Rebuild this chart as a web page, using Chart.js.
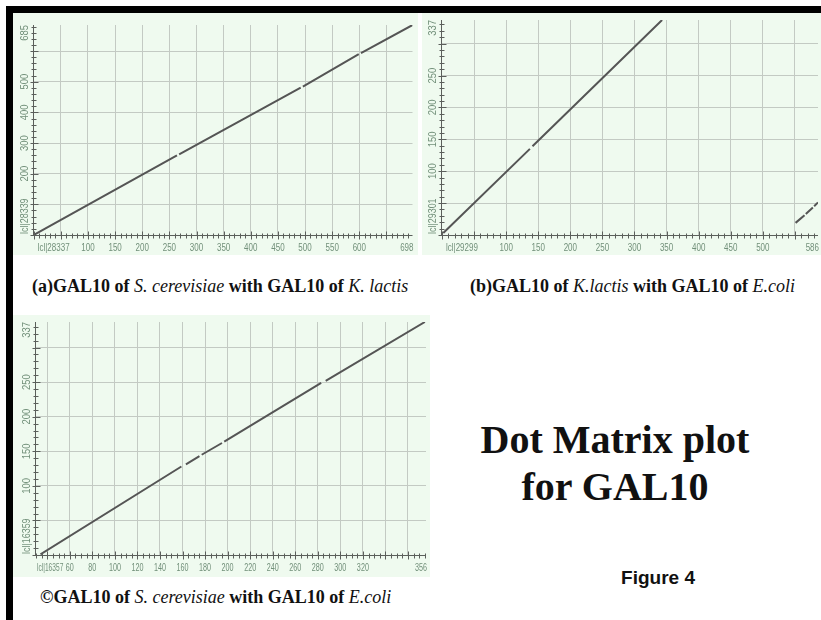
<!DOCTYPE html>
<html>
<head>
<meta charset="utf-8">
<script src="https://cdn.jsdelivr.net/npm/chart.js@4.4.0/dist/chart.umd.min.js"></script>
<style>
  body { margin: 0; width: 821px; height: 620px; background: #fff; position: relative; overflow: hidden; }
  .bar { position: absolute; background: #000; }
  canvas { position: absolute; background: #effaef; }
  .cap { position: absolute; font-family: "Liberation Serif", "Times New Roman", serif; font-weight: bold;
         font-size: 18px; white-space: nowrap; color: #111; line-height: 22px; }
  .cap i { font-weight: normal; }
  .big { position: absolute; left: 440px; width: 350px; top: 416px; text-align: center;
         font-family: "Liberation Serif", "Times New Roman", serif; font-weight: bold; font-size: 40px; line-height: 47px; color: #111; }
  .fig { position: absolute; left: 590px; width: 136px; top: 566px; text-align: center;
         font-family: "Liberation Sans", Arial, sans-serif; font-weight: bold; font-size: 19px; line-height: 24px; color: #111; }
</style>
</head>
<body>
<div class="bar" style="left:6px;top:6px;width:815px;height:7px"></div>
<div class="bar" style="left:6px;top:6px;width:7px;height:614px"></div>

<canvas id="plotA" width="405" height="242" style="left:13px;top:13px"></canvas>
<canvas id="plotB" width="399" height="242" style="left:422px;top:13px"></canvas>
<canvas id="plotC" width="417" height="262" style="left:13px;top:315px"></canvas>

<div class="cap" style="left:32px;top:275px">(a)GAL10 of <i>S. cerevisiae</i> with GAL10 of <i>K. lactis</i></div>
<div class="cap" style="left:470px;top:275px">(b)GAL10 of <i>K.lactis</i> with GAL10 of <i>E.coli</i></div>
<div class="cap" style="left:40px;top:586px">©GAL10 of <i>S. cerevisiae</i> with GAL10 of <i>E.coli</i></div>
<div class="big">Dot Matrix plot<br>for GAL10</div>
<div class="fig">Figure 4</div>

<script>
// (a) S. cerevisiae (x) vs K. lactis (y) - matching segments, null = break
const aSegX = [2, 264, null, 268, 492, null, 496, 599, null, 603, 698];
const aSegY = [2, 260, null, 263, 481, null, 484, 590, null, 593, 685];
const aXTicks = [100, 150, 200, 250, 300, 350, 400, 450, 500, 550, 600];
const aYTicks = [200, 300, 400, 500];

// (b) K. lactis (x) vs E. coli (y)
const bSegX = [2, 137, null, 141, 343, null, 551, 565, null, 567, 578, null, 580, 586];
const bSegY = [3, 135, null, 139, 337, null, 19, 31, null, 33, 43, null, 45, 51];
const bXTicks = [100, 150, 200, 250, 300, 350, 400, 450, 500];
const bYTicks = [100, 150, 200, 250];

// (c) S. cerevisiae (x) vs E. coli (y)
const cSegX = [34, 159, null, 163, 175, null, 177, 195, null, 197, 283, null, 287, 375];
const cSegY = [1, 128, null, 131, 143, null, 145, 162, null, 164, 249, null, 252, 337];
const cXTicks = [60, 80, 100, 120, 140, 160, 180, 200, 220, 240, 260, 280, 300, 320];
const cYTicks = [100, 150, 200, 250];

const labelColor = "#72907a";
const tickColor = "#5b5f5b";
const gridColor = "#c3cac3";
const lineColor = "#555555";

// squeezed small text, the original labels are narrow
function smallText(ctx, txt, x, y, align, rotate, sq) {
  ctx.save();
  ctx.translate(x, y);
  if (rotate) ctx.rotate(-Math.PI / 2);
  ctx.scale(sq, 1);
  ctx.textAlign = align;
  ctx.fillText(txt, 0, 0);
  ctx.restore();
}

// axis lines, minor ticks and labels drawn from the chart's own scales
const axisDeco = {
  id: "axisDeco",
  afterDatasetsDraw(chart, args, o) {
    const { ctx, chartArea: ca, scales: { x, y } } = chart;
    ctx.save();
    ctx.strokeStyle = tickColor;
    ctx.lineWidth = 1;
    ctx.beginPath();
    const bx = Math.round(ca.bottom) + 0.5;
    const lx = Math.round(ca.left) - 0.5;
    ctx.moveTo(ca.left, bx); ctx.lineTo(ca.right, bx);
    ctx.moveTo(lx, ca.top); ctx.lineTo(lx, ca.bottom);
    for (let v = Math.ceil(x.min / o.xMinor) * o.xMinor; v <= x.max; v += o.xMinor) {
      const px = Math.round(x.getPixelForValue(v)) + 0.5;
      const big = v % o.xStep === 0;
      ctx.moveTo(px, bx - (big ? 4 : 2)); ctx.lineTo(px, bx + (big ? 4 : 3));
    }
    for (let v = Math.ceil(y.min / o.yMinor) * o.yMinor; v <= y.max; v += o.yMinor) {
      const py = Math.round(y.getPixelForValue(v)) + 0.5;
      const big = v % o.yStep === 0;
      ctx.moveTo(lx - (big ? 3 : 2), py); ctx.lineTo(lx + (big ? 5 : 3), py);
    }
    ctx.stroke();

    ctx.fillStyle = labelColor;
    ctx.font = '10px "Liberation Sans", Arial, sans-serif';
    ctx.textBaseline = "middle";
    const ly = ca.bottom + 13;
    const sq = o.squeeze;
    smallText(ctx, o.xName, ca.left + o.nameGap, ly, "left", false, o.nameSqueeze);
    o.xTicks.forEach(v => smallText(ctx, String(v), x.getPixelForValue(v), ly, "center", false, sq));
    smallText(ctx, String(o.xEnd), ca.right + 1, ly, "right", false, sq);

    ctx.font = '10.5px "Liberation Sans", Arial, sans-serif';
    const lyx = ca.left - 9;
    smallText(ctx, o.yName, lyx, ca.bottom - 1, "left", true, 0.85);
    o.yTicks.forEach(v => smallText(ctx, String(v), lyx, y.getPixelForValue(v), "center", true, 0.9));
    smallText(ctx, String(o.yEnd), lyx, ca.top, "right", true, 0.9);
    ctx.restore();
  }
};

function gridTicks(step) {
  return scale => {
    const t = [];
    for (let v = Math.ceil(scale.min / step) * step; v < scale.max; v += step) {
      if (v > scale.min) t.push({ value: v });
    }
    scale.ticks = t;
  };
}

function dotPlot(id, segX, segY, box, sc, deco) {
  const pts = segX.map((v, i) => ({ x: v, y: segY[i] }));
  const cv = document.getElementById(id);
  return new Chart(cv, {
    type: "scatter",
    data: {
      datasets: [{
        data: pts,
        showLine: true,
        spanGaps: false,
        borderColor: lineColor,
        borderWidth: 2,
        pointRadius: 0,
        pointHoverRadius: 0
      }]
    },
    options: {
      responsive: false,
      animation: false,
      events: [],
      layout: { padding: box },
      plugins: { legend: { display: false }, tooltip: { enabled: false }, axisDeco: deco },
      scales: {
        x: {
          type: "linear", min: sc.xMin, max: sc.xMax,
          afterBuildTicks: gridTicks(deco.xStep),
          afterFit: s => { s.height = 0; },
          border: { display: false },
          grid: { color: gridColor, drawTicks: false },
          ticks: { display: false }
        },
        y: {
          type: "linear", min: sc.yMin, max: sc.yMax,
          afterBuildTicks: gridTicks(deco.yStep),
          afterFit: s => { s.width = 0; },
          border: { display: false },
          grid: { color: gridColor, drawTicks: false },
          ticks: { display: false }
        }
      }
    },
    plugins: [axisDeco]
  });
}

// canvas at (13,13): plot area 33.7..412.5 x 25..235
dotPlot("plotA", aSegX, aSegY,
  { left: 20.7, top: 12, right: 5.5, bottom: 20 },
  { xMin: 0, xMax: 698, yMin: 0, yMax: 685 },
  { xStep: 50, xMinor: 10, yStep: 100, yMinor: 20, squeeze: 0.8, nameSqueeze: 0.8, nameGap: 4,
    xTicks: aXTicks, yTicks: aYTicks, xEnd: 698, yEnd: 685,
    xName: "lcl|28337", yName: "lcl|28339" });

// canvas at (422,13): plot area 442..818 x 20..235
dotPlot("plotB", bSegX, bSegY,
  { left: 20, top: 7, right: 3, bottom: 20 },
  { xMin: 0, xMax: 586, yMin: 0, yMax: 337 },
  { xStep: 50, xMinor: 10, yStep: 50, yMinor: 10, squeeze: 0.8, nameSqueeze: 0.8, nameGap: 4,
    xTicks: bXTicks, yTicks: bYTicks, xEnd: 586, yEnd: 337,
    xName: "lcl|29299", yName: "lcl|29301" });

// canvas at (13,315): plot area 36..426 x 322..555
dotPlot("plotC", cSegX, cSegY,
  { left: 23, top: 7, right: 4, bottom: 22 },
  { xMin: 30, xMax: 376, yMin: 0, yMax: 337 },
  { xStep: 20, xMinor: 5, yStep: 50, yMinor: 10, squeeze: 0.72, nameSqueeze: 0.66, nameGap: 1,
    xTicks: cXTicks, yTicks: cYTicks, xEnd: 356, yEnd: 337,
    xName: "lcl|16357", yName: "lcl|16359" });
</script>
</body>
</html>
